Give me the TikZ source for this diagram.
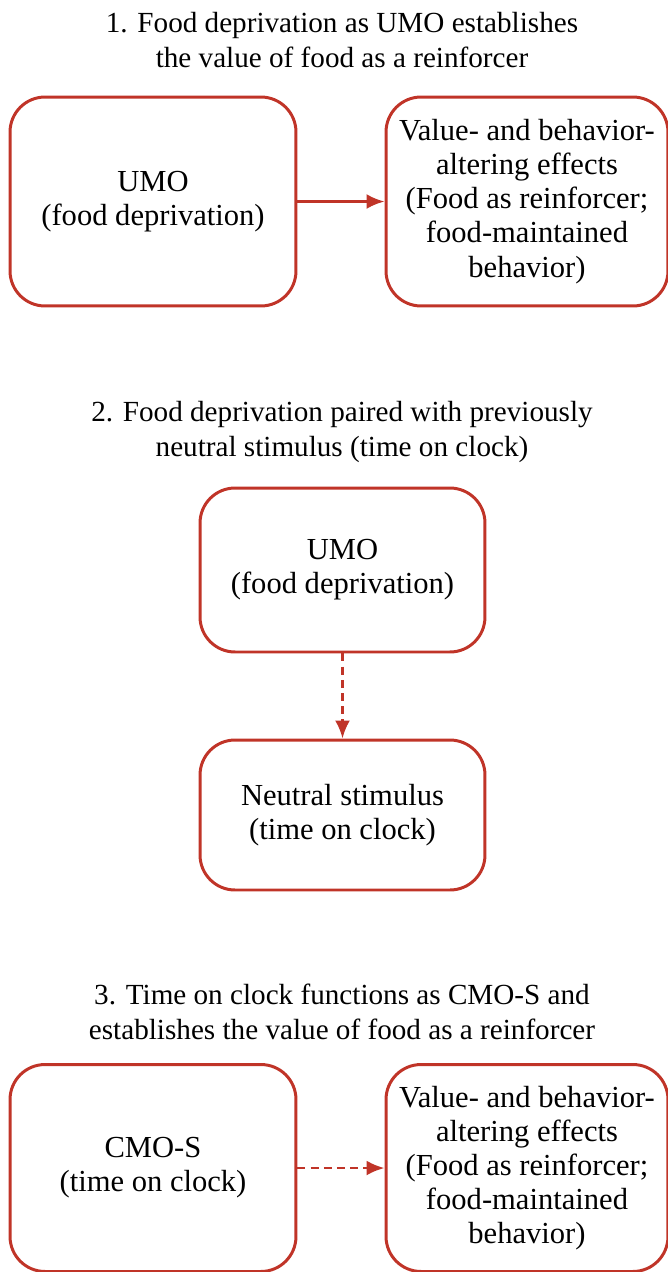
\documentclass[tikz,border=0pt]{standalone}
\usepackage{fontspec}
\setmainfont{Liberation Serif}
\usetikzlibrary{arrows.meta}
\definecolor{umored}{RGB}{192,52,40}

\begin{document}
\begin{tikzpicture}[x=0.02cm,y=-0.02cm,
  box/.style={draw=umored,line width=1.7pt,rounded corners=0.7cm,align=center,
    font=\fontsize{17.4}{19.4}\selectfont,inner sep=0pt},
  heading/.style={align=center,font=\fontsize{16.6}{19.8}\selectfont},
  link/.style={umored,line width=1.6pt,-{Latex[length=3.6mm,width=3mm]}},
  dashlink/.style={link,dash pattern=on 4.5pt off 3pt}]

\useasboundingbox (0,0) rectangle (667,1272);

% part 1
\node[heading] (title1) at (342,40) {1. Food deprivation as UMO establishes\\the value of food as a reinforcer};
\node[box,minimum width=5.72cm,minimum height=4.18cm] (umo1) at (153,201.5) {UMO\\(food deprivation)};
\node[box,minimum width=5.64cm,minimum height=4.18cm] (effects1) at (527,201.5) {Value- and behavior-\\altering effects\\(Food as reinforcer;\\food-maintained\\behavior)};
\draw[link] (umo1) -- (effects1);

% part 2
\node[heading] (title2) at (342,432) {2. Food deprivation paired with previously\\neutral stimulus (time on clock)};
\node[box,minimum width=5.7cm,minimum height=3.28cm] (umo2) at (342.5,570) {UMO\\(food deprivation)};
\node[box,minimum width=5.7cm,minimum height=3.0cm] (neutral) at (342.5,815) {Neutral stimulus\\(time on clock)};
\draw[dashlink] (umo2) -- (neutral);

% part 3
\node[heading] (title3) at (342,1012) {3. Time on clock functions as CMO-S and\\establishes the value of food as a reinforcer};
\node[box,minimum width=5.72cm,minimum height=4.14cm] (cmo) at (153,1168) {CMO-S\\(time on clock)};
\node[box,minimum width=5.64cm,minimum height=4.14cm] (effects3) at (527,1168) {Value- and behavior-\\altering effects\\(Food as reinforcer;\\food-maintained\\behavior)};
\draw[dashlink] (cmo) -- (effects3);

\end{tikzpicture}
\end{document}
